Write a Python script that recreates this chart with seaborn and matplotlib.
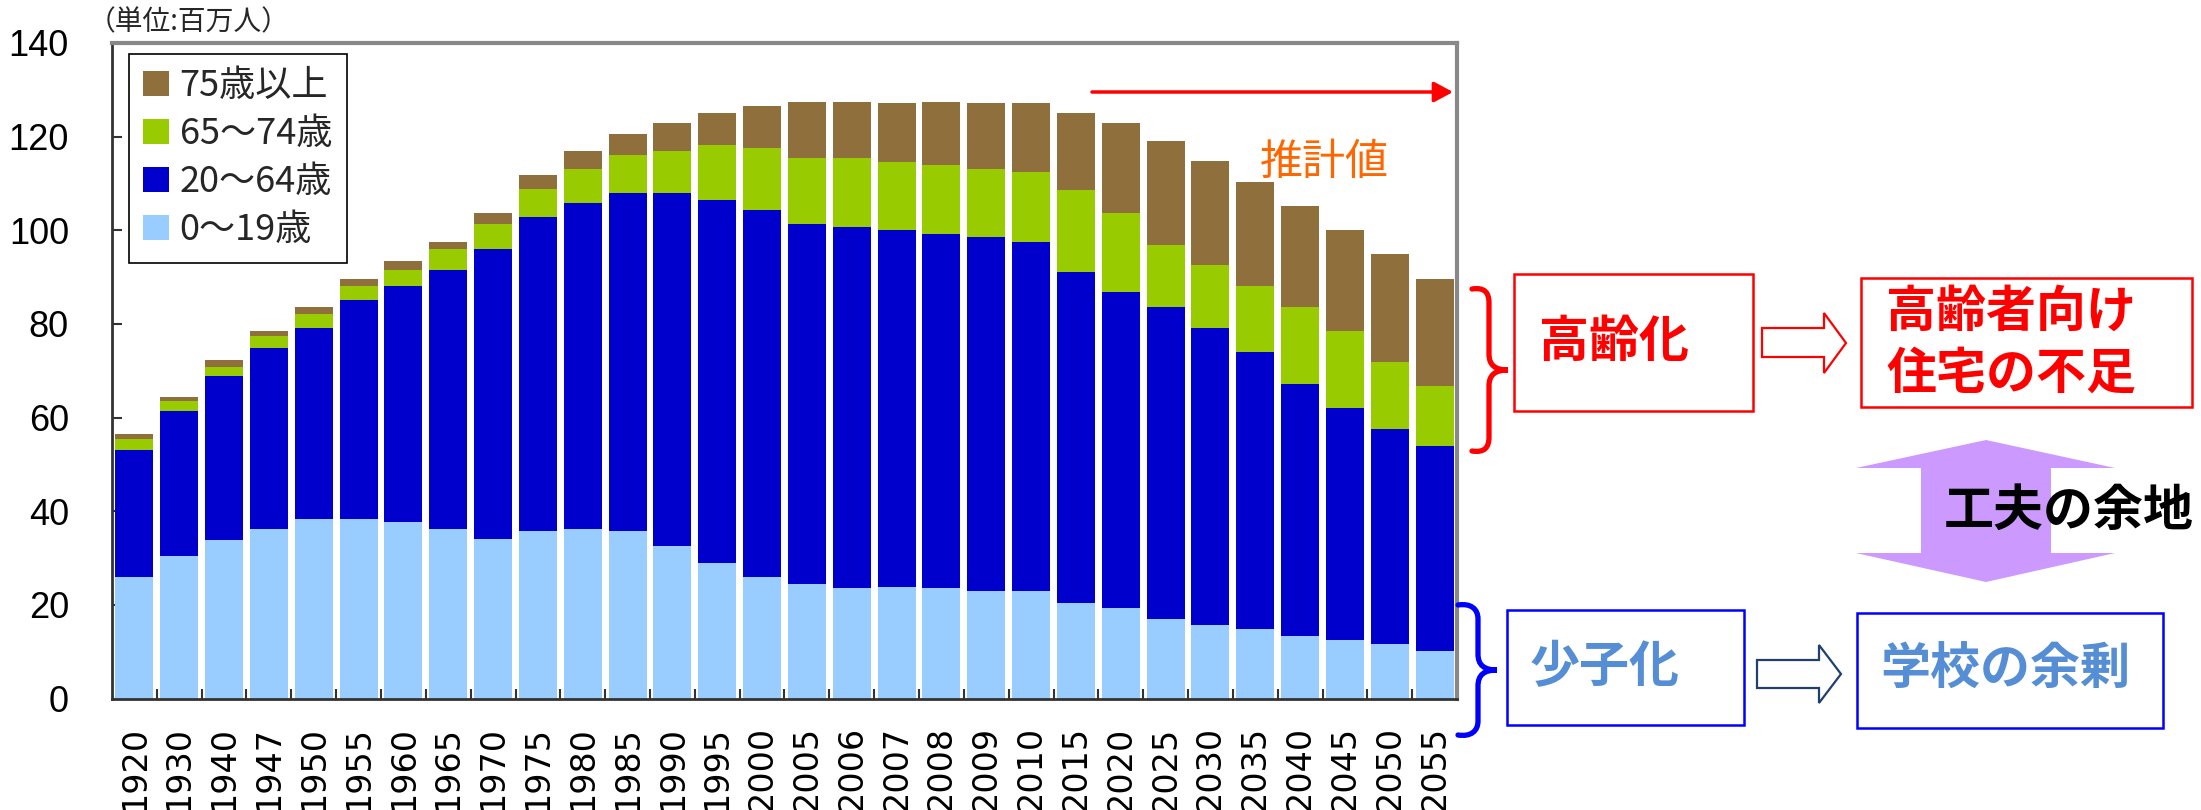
import numpy as np
import pandas as pd
import seaborn as sns
import matplotlib
matplotlib.use("Agg")
import matplotlib.pyplot as plt
from matplotlib import font_manager
from matplotlib.patches import Rectangle, Polygon, PathPatch
from matplotlib.path import Path

# Population of Japan by age group (millions)
years = ["1920", "1930", "1940", "1947", "1950", "1955", "1960", "1965", "1970", "1975",
         "1980", "1985", "1990", "1995", "2000", "2005", "2006", "2007", "2008", "2009",
         "2010", "2015", "2020", "2025", "2030", "2035", "2040", "2045", "2050", "2055"]
age_0_19 = [25.9, 30.4, 33.8, 36.2, 38.3, 38.3, 37.7, 36.2, 34.1, 35.7,
            36.2, 35.7, 32.5, 28.9, 25.9, 24.4, 23.6, 23.8, 23.6, 22.9,
            22.9, 20.5, 19.3, 16.9, 15.6, 14.8, 13.3, 12.4, 11.7, 10.2]
age_20_64 = [27.2, 30.9, 35.0, 38.6, 40.8, 46.8, 50.3, 55.4, 62.0, 67.1,
             69.6, 72.2, 75.4, 77.5, 78.4, 76.9, 77.0, 76.2, 75.5, 75.6,
             74.7, 70.5, 67.6, 66.7, 63.5, 59.1, 53.9, 49.7, 45.9, 43.8]
age_65_74 = [2.4, 2.3, 2.1, 2.7, 3.0, 2.9, 3.6, 4.5, 5.2, 6.0,
             7.3, 8.2, 9.0, 11.8, 13.3, 14.1, 14.8, 14.6, 14.8, 14.6,
             14.8, 17.6, 16.7, 13.2, 13.4, 14.1, 16.4, 16.3, 14.2, 12.7]
age_75_plus = [0.9, 0.9, 1.5, 0.9, 1.5, 1.6, 1.8, 1.5, 2.3, 3.0,
               3.8, 4.5, 6.0, 6.9, 9.0, 12.0, 12.0, 12.6, 13.5, 14.1,
               14.8, 16.5, 19.3, 22.3, 22.3, 22.3, 21.5, 21.6, 23.1, 23.0]

series_labels = ["0～19歳", "20～64歳", "65～74歳", "75歳以上"]
series_colors = ["#99CCFF", "#0000CC", "#99CC00", "#8F703D"]
y_ticks = [0, 20, 40, 60, 80, 100, 120, 140]

sns.set_theme(style="white")
plt.rcParams["font.family"] = ["Noto Sans CJK JP", "DejaVu Sans"]
installed = {f.name for f in font_manager.fontManager.ttflist}
narrow_font = "Liberation Sans Narrow" if "Liberation Sans Narrow" in installed else "Liberation Sans"

W, H = 2201, 810
fig = plt.figure(figsize=(W / 100, H / 100), dpi=100)
fig.patch.set_facecolor("white")

def fx(x):
    return x / W

def fy(y):
    return 1 - y / H

ax_left, ax_right, ax_top, ax_bottom = 112, 1457, 43, 698.5
ax = fig.add_axes([fx(ax_left), fy(ax_bottom), (ax_right - ax_left) / W, (ax_bottom - ax_top) / H])

df = pd.DataFrame({"year": years, "a": age_0_19, "b": age_20_64, "c": age_65_74, "d": age_75_plus})
df["s1"] = df["a"]
df["s2"] = df["s1"] + df["b"]
df["s3"] = df["s2"] + df["c"]
df["s4"] = df["s3"] + df["d"]

# stacked bars: draw cumulative totals from the top layer down
for col, color in zip(["s4", "s3", "s2", "s1"], series_colors[::-1]):
    sns.barplot(data=df, x="year", y=col, order=years, color=color, saturation=1,
                width=0.85, errorbar=None, linewidth=0, ax=ax)

ax.set_xlim(-0.5, len(years) - 0.5)
ax.set_ylim(0, 140)
ax.set_xlabel("")
ax.set_ylabel("")
ax.set_yticks(y_ticks)
ax.set_yticklabels([str(v) for v in y_ticks], fontfamily=narrow_font, fontsize=26)
ax.tick_params(axis="y", direction="in", length=7, width=1.5, color="#333333", pad=31,
               left=True, labelcolor="black")
ax.set_xticks(range(len(years)))
ax.set_xticklabels(years, rotation=90, fontfamily="DejaVu Sans", fontsize=24, va="top")
ax.tick_params(axis="x", which="major", length=0, pad=20, labelcolor="black")
ax.set_xticks(np.arange(0.5, len(years) - 1, 1), minor=True)
ax.tick_params(axis="x", which="minor", direction="in", length=7, width=1.5,
               color="#333333", bottom=True)
ax.grid(False)

for side in ["left", "bottom"]:
    ax.spines[side].set_color("#333333")
    ax.spines[side].set_linewidth(2)
for side in ["top", "right"]:
    ax.spines[side].set_color("#888888")
    ax.spines[side].set_linewidth(3)

handles = [Rectangle((0, 0), 1, 1, facecolor=c, edgecolor="none") for c in series_colors[::-1]]
leg = ax.legend(handles, series_labels[::-1], loc="upper left",
                bbox_to_anchor=((129 - ax_left) / (ax_right - ax_left), (ax_bottom - 54) / (ax_bottom - ax_top)),
                borderaxespad=0, frameon=True, fancybox=False, framealpha=1,
                edgecolor="black", prop={"family": ["Noto Sans CJK JP"], "size": 26},
                handlelength=0.7, handleheight=0.7, handletextpad=0.3,
                labelspacing=0.33, borderpad=0.4)
leg.get_frame().set_linewidth(1.2)

fig.text(fx(88), fy(22), "（単位:百万人）", fontsize=20, ha="left", va="center")

# projection arrow and label
ax.annotate("", xy=(fx(1453), fy(92)), xytext=(fx(1092), fy(92)),
            xycoords="figure fraction", textcoords="figure fraction",
            arrowprops=dict(arrowstyle="-|>,head_length=0.82,head_width=0.44",
                            color="#FF0000", lw=2.5, mutation_scale=14,
                            shrinkA=0, shrinkB=0))
fig.text(fx(1324), fy(163), "推計値", color="#FF6600", fontsize=31, ha="center", va="center")


def add_box(x0, y0, x1, y1, color):
    fig.add_artist(Rectangle((fx(x0), fy(y1)), (x1 - x0) / W, (y1 - y0) / H,
                             transform=fig.transFigure, fill=False, edgecolor=color, linewidth=1.8))


def add_hollow_arrow(x0, xb, xt, ys0, ys1, yh0, yh1, color):
    ty = (yh0 + yh1) / 2
    pts = [(x0, ys0), (xb, ys0), (xb, yh0), (xt, ty), (xb, yh1), (xb, ys1), (x0, ys1)]
    fig.add_artist(Polygon([(fx(x), fy(y)) for x, y in pts], closed=True, transform=fig.transFigure,
                           facecolor="white", edgecolor=color, linewidth=1.6))


def add_brace(x_end, x_mid, x_tip, y_top, y_bot, color):
    y_c = (y_top + y_bot) / 2
    r = 16
    verts = [
        (x_end, y_top + 2),
        (x_end + 13, y_top), (x_mid, y_top + 6), (x_mid, y_top + r),
        (x_mid, y_c - r),
        (x_mid, y_c - 5), (x_mid + 6, y_c), (x_tip, y_c),
        (x_mid + 6, y_c), (x_mid, y_c + 5), (x_mid, y_c + r),
        (x_mid, y_bot - r),
        (x_mid, y_bot - 6), (x_end + 13, y_bot), (x_end, y_bot - 2),
    ]
    codes = [Path.MOVETO,
             Path.CURVE4, Path.CURVE4, Path.CURVE4,
             Path.LINETO,
             Path.CURVE4, Path.CURVE4, Path.CURVE4,
             Path.CURVE4, Path.CURVE4, Path.CURVE4,
             Path.LINETO,
             Path.CURVE4, Path.CURVE4, Path.CURVE4]
    path = Path([(fx(x), fy(y)) for x, y in verts], codes)
    fig.add_artist(PathPatch(path, transform=fig.transFigure, fill=False,
                             edgecolor=color, linewidth=3.8, capstyle="round"))


# ageing block
add_brace(1472, 1489, 1508, 287, 453, "#FF0000")
add_box(1514, 274, 1753, 411, "#FF0000")
fig.text(fx(1614), fy(342), "高齢化", color="#FF0000", fontsize=36, fontweight="bold",
         ha="center", va="center")
add_hollow_arrow(1762, 1824, 1846, 328, 357, 313, 373, "#FF0000")
add_box(1861, 278, 2192, 407, "#FF0000")
fig.text(fx(1886), fy(312), "高齢者向け", color="#FF0000", fontsize=36, fontweight="bold",
         ha="left", va="center")
fig.text(fx(1886), fy(374), "住宅の不足", color="#FF0000", fontsize=36, fontweight="bold",
         ha="left", va="center")

# double arrow between the two outcomes
cx = 1986
purple = [(cx, 440), (2115, 468), (2051, 468), (2051, 553), (2115, 553), (cx, 582),
          (1856, 553), (1921, 553), (1921, 468), (1856, 468)]
fig.add_artist(Polygon([(fx(x), fy(y)) for x, y in purple], closed=True, transform=fig.transFigure,
                       facecolor="#CC99FF", edgecolor="none"))
fig.text(fx(1944), fy(511), "工夫の余地", color="black", fontsize=36, fontweight="bold",
         ha="left", va="center")

# declining birthrate block
text_blue = "#558ED5"
add_brace(1458, 1478, 1497, 603, 737, "#0000FF")
add_box(1507, 610, 1744, 725, "#0000FF")
fig.text(fx(1605), fy(668), "少子化", color=text_blue, fontsize=36, fontweight="bold",
         ha="center", va="center")
add_hollow_arrow(1757, 1819, 1841, 660, 688, 645, 703, "#1F3F6F")
add_box(1857, 613, 2163, 728, "#0000FF")
fig.text(fx(2005), fy(670), "学校の余剰", color=text_blue, fontsize=36, fontweight="bold",
         ha="center", va="center")

fig.savefig("out.png", dpi=100, facecolor="white")
